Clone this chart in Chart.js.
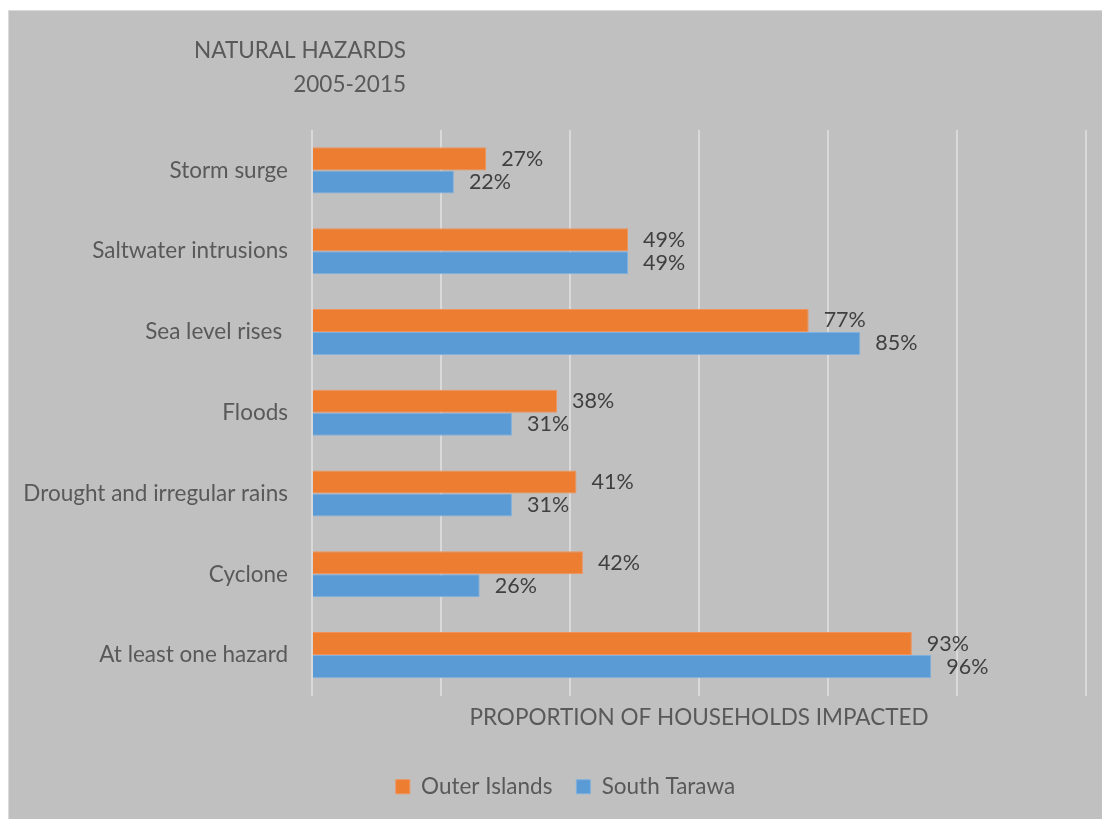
<!DOCTYPE html>
<html>
<head>
<meta charset="utf-8">
<title>Natural hazards 2005-2015</title>
<script src="https://cdn.jsdelivr.net/npm/chart.js@4.4.1/dist/chart.umd.min.js"></script>
<style>
  html, body { margin: 0; padding: 0; background: #ffffff; }
  #frame {
    position: absolute;
    left: 8px; top: 10px;
    width: 1094px; height: 809px;
    background: #c0c0c0;
    border-top: 1px solid #dadada;
    border-left: 1px solid #dadada;
  }
  #frame canvas { display: block; }
</style>
</head>
<body>
<div id="frame"><canvas id="hazardChart" width="1093" height="808"></canvas></div>
<script>
// hazard categories, top to bottom
const hazards = [
    'Storm surge',
    'Saltwater intrusions',
    'Sea level rises ',
    'Floods',
    'Drought and irregular rains',
    'Cyclone',
    'At least one hazard'
];

// share of households impacted (%)
const outerIslands = [27, 49, 77, 38, 41, 42, 93];
const southTarawa = [22, 49, 85, 31, 31, 26, 96];

const titleLines = ['NATURAL HAZARDS', '2005-2015'];
const axisTitle = 'PROPORTION OF HOUSEHOLDS IMPACTED';

const FONT = "Lato, 'Noto Sans', sans-serif";
const TEXT_GREY = '#595959';

// chart heading, two lines right aligned on the same edge
const headingPlugin = {
    id: 'heading',
    afterDraw(chart) {
        const ctx = chart.ctx;
        ctx.save();
        ctx.font = '22.5px ' + FONT;
        ctx.fillStyle = TEXT_GREY;
        ctx.textAlign = 'right';
        ctx.textBaseline = 'middle';
        ctx.fillText(titleLines[0], 397, 40);
        ctx.fillText(titleLines[1], 397, 74);
        ctx.restore();
    }
};

// percentage label just past the end of each bar
const valueLabels = {
    id: 'valueLabels',
    afterDatasetsDraw(chart) {
        const ctx = chart.ctx;
        ctx.save();
        ctx.font = '21.5px ' + FONT;
        ctx.fillStyle = '#404040';
        ctx.textAlign = 'left';
        ctx.textBaseline = 'middle';
        chart.data.datasets.forEach((ds, i) => {
            chart.getDatasetMeta(i).data.forEach((bar, j) => {
                ctx.fillText(ds.data[j] + '%', bar.x + 15, bar.y);
            });
        });
        ctx.restore();
    }
};

// the legend sits a little right of the canvas centre
const legendNudge = {
    id: 'legendNudge',
    afterLayout(chart) {
        chart.legend.left += 18;
        chart.legend.right += 18;
    }
};

new Chart(document.getElementById('hazardChart').getContext('2d'), {
    type: 'bar',
    data: {
        labels: hazards,
        datasets: [{
            label: 'Outer Islands',
            data: outerIslands,
            backgroundColor: '#ed7d31',
            borderColor: '#f1925a',
            borderWidth: 1
        }, {
            label: 'South Tarawa',
            data: southTarawa,
            backgroundColor: '#5b9bd5',
            borderColor: '#7fb0de',
            borderWidth: 1
        }]
    },
    options: {
        indexAxis: 'y',
        responsive: false,
        animation: false,
        categoryPercentage: 0.57,
        barPercentage: 1.0,
        layout: {
            padding: { top: 119, right: 16, bottom: 11, left: 0 }
        },
        scales: {
            x: {
                min: 0,
                max: 120,
                ticks: { display: false, stepSize: 20 },
                grid: { color: '#d9d9d9', lineWidth: 2, drawTicks: false },
                border: { display: false },
                title: {
                    display: true,
                    text: axisTitle,
                    color: TEXT_GREY,
                    font: { family: FONT, size: 22.5 },
                    padding: { top: 0, bottom: 20 }
                },
                afterFit(scale) { scale.height = 56; }
            },
            y: {
                ticks: {
                    color: TEXT_GREY,
                    font: { family: FONT, size: 22.5 },
                    padding: 24
                },
                grid: { display: false, drawTicks: false },
                border: { display: false },
                afterFit(scale) { scale.width = 303; }
            }
        },
        plugins: {
            legend: {
                position: 'bottom',
                labels: {
                    color: TEXT_GREY,
                    font: { family: FONT, size: 22.5 },
                    boxWidth: 14,
                    boxHeight: 14,
                    padding: 24
                }
            },
            tooltip: { enabled: false }
        }
    },
    plugins: [headingPlugin, valueLabels, legendNudge]
});
</script>
</body>
</html>
